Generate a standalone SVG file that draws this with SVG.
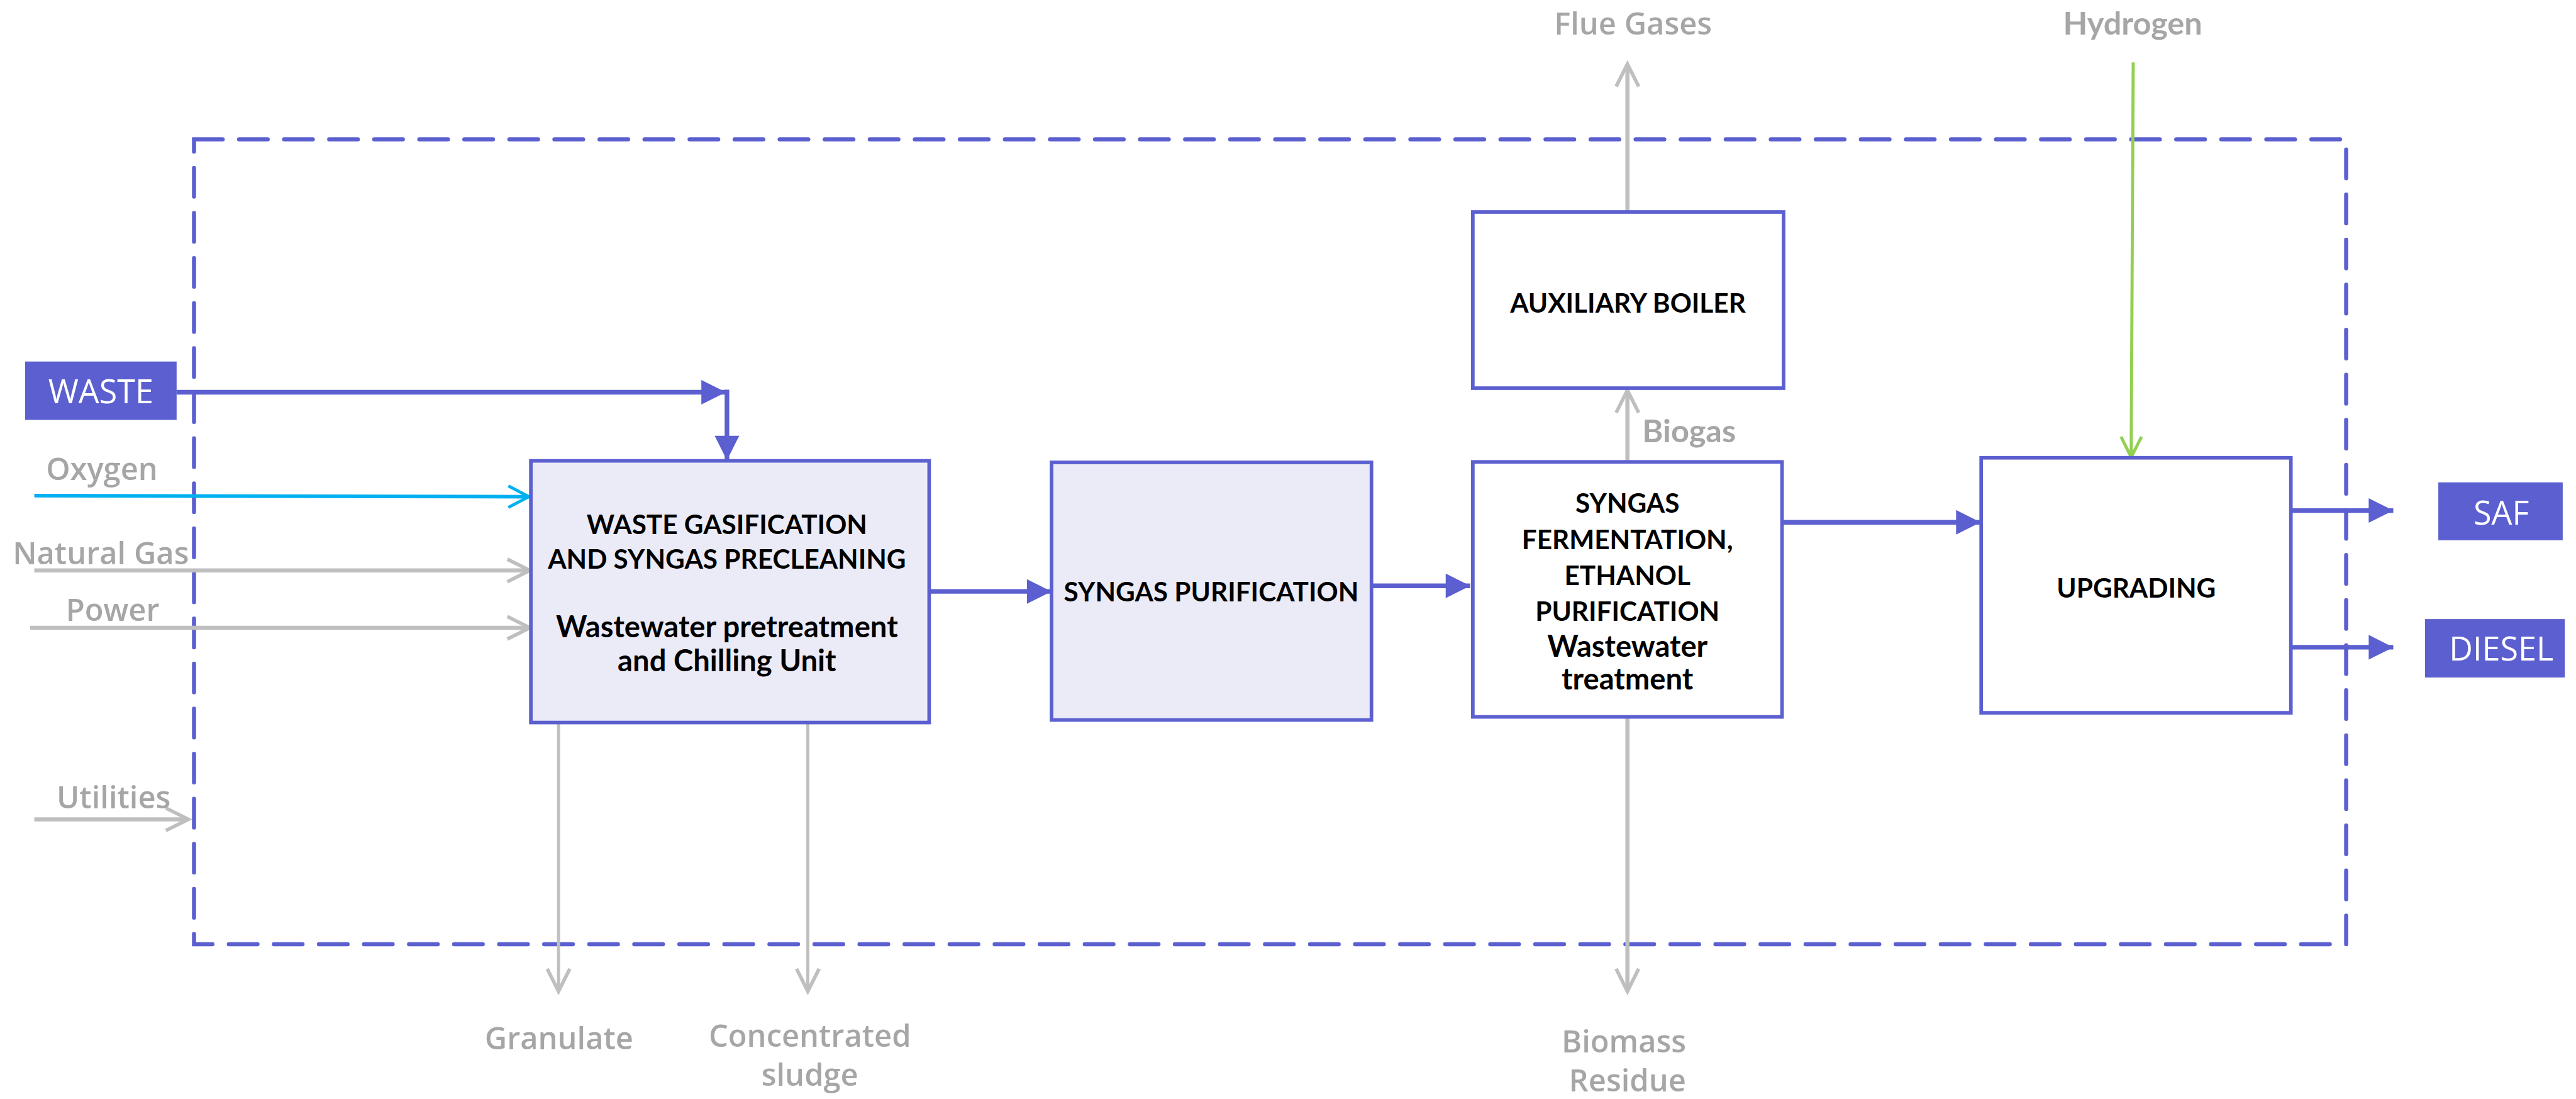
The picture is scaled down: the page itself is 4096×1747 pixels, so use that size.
<svg xmlns="http://www.w3.org/2000/svg" width="4096" height="1747" viewBox="0 0 4096 1747">
<style>
.box{stroke:#5B5FCF;stroke-width:7}
.lav{fill:#EBEBF7}
.wht{fill:#FFFFFF}
.tag{fill:#5B5FCF}
.nt{font-family:Lato,"Liberation Sans",sans-serif;font-weight:bold;font-size:52px;fill:#000;text-anchor:middle}
.nl{font-size:58px}
.tt{font-family:"Open Sans","Liberation Sans",sans-serif;font-size:64px;fill:#FFFFFF;text-anchor:middle}
.gl{font-family:"Open Sans","Liberation Sans",sans-serif;font-weight:600;font-size:60px;fill:#A6A6A6;text-anchor:middle}
.gb{font-family:Lato,"Liberation Sans",sans-serif;font-weight:bold;font-size:62px;fill:#A6A6A6}
.bl{stroke:#5B5FCF;stroke-width:9;fill:none;marker-end:url(#tri)}
.gr{stroke:#BFBFBF;stroke-width:8;fill:none;marker-end:url(#chg)}
.grt{stroke:#BFBFBF;stroke-width:6;fill:none;marker-end:url(#chg)}
</style>
<defs>
<marker id="tri" markerUnits="userSpaceOnUse" viewBox="0 0 48 48" refX="48" refY="24" markerWidth="48" markerHeight="48" orient="auto" overflow="visible"><path d="M0,0 L48,24 L0,48 z" fill="#5B5FCF"/></marker>
<marker id="chg" markerUnits="userSpaceOnUse" viewBox="0 0 46 46" refX="44" refY="22" markerWidth="46" markerHeight="46" orient="auto" overflow="visible"><path d="M0,0 L44,22 L0,44" fill="none" stroke="#BFBFBF" stroke-width="7"/></marker>
<marker id="chc" markerUnits="userSpaceOnUse" viewBox="0 0 46 46" refX="40" refY="21" markerWidth="46" markerHeight="46" orient="auto" overflow="visible"><path d="M0,0 L40,21 L0,42" fill="none" stroke="#00B0F0" stroke-width="6"/></marker>
<marker id="chn" markerUnits="userSpaceOnUse" viewBox="0 0 46 46" refX="40" refY="20" markerWidth="46" markerHeight="46" orient="auto" overflow="visible"><path d="M0,0 L40,20 L0,40" fill="none" stroke="#92D050" stroke-width="6"/></marker>
</defs>
<rect width="4096" height="1747" fill="#FFFFFF"/>
<g transform="scale(0.814)">
<g id="boundary">
<rect x="379" y="272" width="4204" height="1572" fill="none" stroke="#5B5FCF" stroke-width="8" stroke-dasharray="56 32" stroke-linecap="round"/>
</g>
<g id="connectors">
<path class="bl" d="M345,766 H1418" stroke-width="10"/>
<path class="bl" d="M1420,761 V899" stroke-width="10"/>
<path d="M67,968 L1033,970" stroke="#00B0F0" stroke-width="7" fill="none" marker-end="url(#chc)"/>
<path class="gr" d="M67,1114 H1035"/>
<path class="gr" d="M59,1226 H1035"/>
<path class="gr" d="M67,1600 H368"/>
<path class="bl" d="M1815,1155 H2054"/>
<path class="bl" d="M2679,1144 H2872"/>
<path class="bl" d="M3481,1020 H3869"/>
<path class="bl" d="M4475,997 H4675"/>
<path class="bl" d="M4475,1264 H4675"/>
<path d="M4167,122 L4163,893" stroke="#92D050" stroke-width="6" fill="none" marker-end="url(#chn)"/>
<path class="gr" d="M3179,902 V762"/>
<path class="gr" d="M3179,414 V125"/>
<path class="gr" d="M3179,1400 V1936"/>
<path class="grt" d="M1091,1411 V1936"/>
<path class="grt" d="M1578,1405 V1936"/>
</g>
<g id="labels">
<text class="gl" x="199" y="937">Oxygen</text>
<text class="gl" x="197" y="1102">Natural Gas</text>
<text class="gl" x="220" y="1213">Power</text>
<text class="gl" x="222" y="1579">Utilities</text>
<text class="gl" x="3190" y="67">Flue Gases</text>
<text class="gb" x="4166" y="67" text-anchor="middle">Hydrogen</text>
<text class="gb" x="3208" y="864">Biogas</text>
<text class="gl" x="1092" y="2049">Granulate</text>
<text class="gl" x="1582" y="2044">Concentrated</text>
<text class="gl" x="1582" y="2120">sludge</text>
<text class="gl" x="3172" y="2055">Biomass</text>
<text class="gl" x="3179" y="2132">Residue</text>
</g>
<g id="waste">
<rect class="tag" x="49" y="706" width="296" height="114"/>
<text class="tt" x="197" y="788">WASTE</text>
</g>
<g id="gasification">
<rect class="box lav" x="1037" y="900" width="778" height="511"/>
<text class="nt" x="1420" y="1043">WASTE GASIFICATION</text>
<text class="nt" x="1420" y="1110">AND SYNGAS PRECLEANING</text>
<text class="nt nl" x="1420" y="1244">Wastewater pretreatment</text>
<text class="nt nl" x="1420" y="1311">and Chilling Unit</text>
</g>
<g id="purification">
<rect class="box lav" x="2054" y="903" width="625" height="503"/>
<text class="nt" x="2366" y="1175">SYNGAS PURIFICATION</text>
</g>
<g id="fermentation">
<rect class="box wht" x="2877" y="902" width="604" height="498"/>
<text class="nt" x="3179" y="1001" font-size="54">SYNGAS</text>
<text class="nt" x="3179" y="1072" font-size="54">FERMENTATION,</text>
<text class="nt" x="3179" y="1143" font-size="54">ETHANOL</text>
<text class="nt" x="3179" y="1213" font-size="54">PURIFICATION</text>
<text class="nt nl" x="3179" y="1282">Wastewater</text>
<text class="nt nl" x="3179" y="1347">treatment</text>
</g>
<g id="boiler">
<rect class="box wht" x="2877" y="414" width="607" height="344"/>
<text class="nt" x="3180" y="611" font-size="55">AUXILIARY BOILER</text>
</g>
<g id="upgrading">
<rect class="box wht" x="3870" y="894" width="605" height="498"/>
<text class="nt" x="4173" y="1167" font-size="54">UPGRADING</text>
</g>
<g id="saf">
<rect class="tag" x="4763" y="942" width="243" height="113"/>
<text class="tt" x="4886" y="1024">SAF</text>
</g>
<g id="diesel">
<rect class="tag" x="4737" y="1209" width="273" height="114"/>
<text class="tt" x="4886" y="1290">DIESEL</text>
</g>
</g>
</svg>
